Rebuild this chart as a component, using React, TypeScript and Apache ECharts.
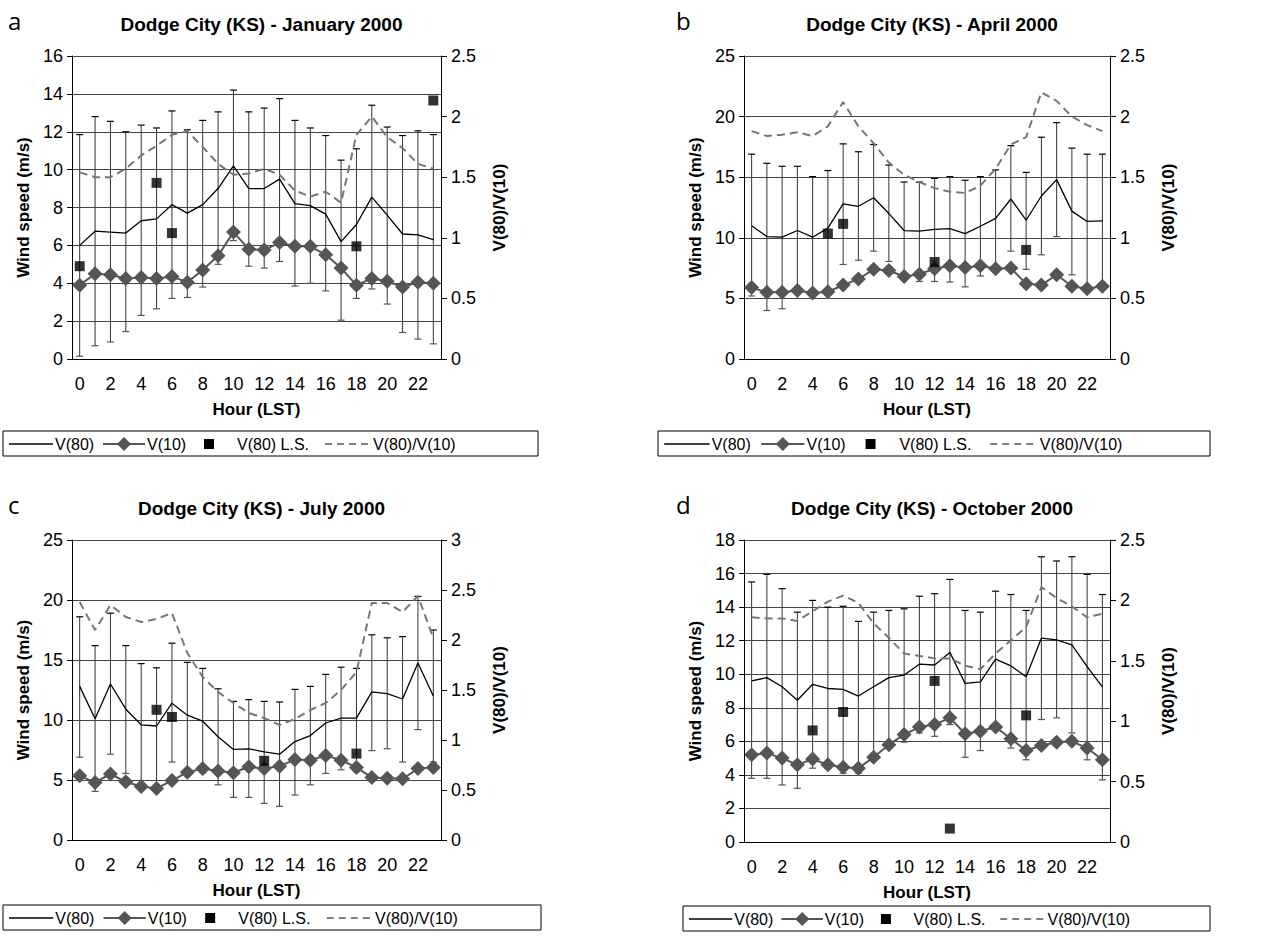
import React, { useEffect, useRef } from "react";
import * as echarts from "echarts";

const hours = Array.from({ length: 24 }, (_, i) => String(i));

const titles = ["Dodge City (KS) - January 2000", "Dodge City (KS) - April 2000", "Dodge City (KS) - July 2000", "Dodge City (KS) - October 2000"];
const letters = ["a", "b", "c", "d"];

const v80Jan = [6.0, 6.75, 6.7, 6.65, 7.3, 7.4, 8.15, 7.7, 8.15, 9.0, 10.2, 9.0, 9.0, 9.5, 8.2, 8.1, 7.65, 6.2, 7.1, 8.55, 7.6, 6.6, 6.55, 6.3];
const v10Jan = [3.9, 4.5, 4.45, 4.25, 4.3, 4.25, 4.35, 4.05, 4.7, 5.45, 6.7, 5.8, 5.75, 6.15, 5.95, 5.95, 5.5, 4.8, 3.9, 4.25, 4.1, 3.8, 4.05, 4.0];
const ratioJan = [1.54, 1.5, 1.5, 1.57, 1.68, 1.76, 1.85, 1.88, 1.75, 1.61, 1.52, 1.53, 1.57, 1.52, 1.39, 1.34, 1.38, 1.29, 1.85, 2.0, 1.83, 1.74, 1.61, 1.57];
const upJan = [11.85, 12.8, 12.55, 12.0, 12.35, 12.2, 13.1, 12.1, 12.6, 13.05, 14.2, 13.05, 13.25, 13.75, 12.6, 12.2, 11.8, 10.5, 11.1, 13.4, 12.25, 11.8, 12.05, 11.85];
const lowJan = [0.15, 0.7, 0.9, 1.45, 2.3, 2.65, 3.2, 3.25, 3.8, 5.0, 6.25, 4.9, 4.8, 5.15, 3.85, 4.0, 3.6, 2.05, 3.2, 3.7, 2.9, 1.4, 1.05, 0.8];
const lsJan: [number, number][] = [[0, 4.9], [5, 9.3], [6, 6.65], [18, 5.95], [23, 13.65]];

const v80Apr = [11.0, 10.1, 10.05, 10.6, 10.05, 10.8, 12.8, 12.6, 13.3, 12.0, 10.6, 10.55, 10.7, 10.75, 10.35, 10.95, 11.6, 13.2, 11.45, 13.45, 14.8, 12.2, 11.35, 11.4];
const v10Apr = [5.9, 5.5, 5.5, 5.65, 5.45, 5.55, 6.1, 6.6, 7.4, 7.3, 6.8, 7.0, 7.45, 7.7, 7.55, 7.7, 7.45, 7.5, 6.2, 6.1, 6.95, 6.0, 5.8, 6.0];
const ratioApr = [1.88, 1.84, 1.85, 1.87, 1.84, 1.92, 2.12, 1.92, 1.78, 1.62, 1.52, 1.46, 1.41, 1.38, 1.37, 1.43, 1.57, 1.77, 1.83, 2.2, 2.13, 2.0, 1.93, 1.88];
const upApr = [16.9, 16.15, 15.9, 15.9, 15.05, 15.55, 17.75, 17.1, 17.7, 16.0, 14.6, 14.6, 14.9, 15.05, 14.75, 15.05, 15.6, 17.6, 15.4, 18.3, 19.5, 17.4, 16.9, 16.9];
const lowApr = [5.2, 4.0, 4.15, 5.5, 5.3, 5.5, 7.8, 8.15, 8.9, 8.05, 7.0, 6.4, 6.4, 6.35, 5.95, 6.85, 7.2, 8.9, 7.4, 8.6, 10.1, 6.95, 5.8, 6.0];
const lsApr: [number, number][] = [[5, 10.35], [6, 11.15], [12, 8.0], [18, 9.0]];

const v80Jul = [12.8, 10.1, 13.0, 10.9, 9.6, 9.5, 11.4, 10.4, 9.9, 8.6, 7.55, 7.6, 7.35, 7.15, 8.2, 8.7, 9.75, 10.15, 10.15, 12.35, 12.2, 11.75, 14.75, 12.0];
const v10Jul = [5.35, 4.8, 5.5, 4.85, 4.45, 4.3, 4.95, 5.65, 5.95, 5.75, 5.6, 6.1, 5.95, 6.15, 6.7, 6.65, 7.05, 6.65, 6.05, 5.2, 5.15, 5.1, 5.95, 6.05];
const ratioJul = [2.38, 2.1, 2.35, 2.23, 2.18, 2.21, 2.27, 1.87, 1.63, 1.48, 1.37, 1.27, 1.22, 1.15, 1.21, 1.3, 1.37, 1.5, 1.68, 2.37, 2.37, 2.28, 2.44, 2.02];
const upJul = [18.6, 16.2, 18.9, 16.2, 14.7, 14.35, 16.4, 14.8, 14.3, 12.6, 11.55, 11.7, 11.55, 11.5, 12.55, 12.8, 13.8, 14.4, 14.3, 17.1, 16.85, 16.95, 20.3, 17.5];
const lowJul = [6.9, 4.05, 7.15, 5.55, 4.5, 4.3, 6.5, 5.4, 5.6, 4.6, 3.55, 3.55, 3.05, 2.8, 3.75, 4.6, 5.55, 5.85, 5.7, 7.45, 7.6, 6.5, 9.2, 6.5];
const lsJul: [number, number][] = [[5, 10.85], [6, 10.25], [12, 6.6], [18, 7.2]];

const v80Oct = [9.6, 9.8, 9.25, 8.45, 9.4, 9.15, 9.1, 8.7, 9.25, 9.8, 9.95, 10.6, 10.55, 11.3, 9.45, 9.55, 10.9, 10.5, 9.85, 12.15, 12.05, 11.75, 10.45, 9.25];
const v10Oct = [5.2, 5.3, 5.0, 4.6, 4.95, 4.6, 4.45, 4.4, 5.05, 5.8, 6.4, 6.85, 7.0, 7.4, 6.45, 6.6, 6.85, 6.15, 5.45, 5.75, 5.95, 6.0, 5.6, 4.9];
const ratioOct = [1.86, 1.85, 1.85, 1.83, 1.91, 1.99, 2.04, 1.98, 1.81, 1.69, 1.56, 1.54, 1.52, 1.52, 1.46, 1.43, 1.56, 1.67, 1.78, 2.11, 2.02, 1.95, 1.86, 1.89];
const upOct = [15.5, 15.95, 15.1, 13.7, 14.4, 14.0, 14.05, 13.15, 13.7, 13.8, 13.9, 14.65, 14.8, 15.65, 13.8, 13.7, 14.95, 14.75, 13.8, 17.0, 16.75, 17.0, 15.95, 14.75];
const lowOct = [3.8, 3.8, 3.4, 3.2, 4.4, 4.4, 4.1, 4.1, 5.1, 5.8, 5.95, 6.5, 6.3, 7.0, 5.05, 5.45, 6.85, 5.6, 4.9, 7.3, 7.4, 6.5, 4.9, 3.7];
const lsOct: [number, number][] = [[4, 6.65], [6, 7.75], [12, 9.6], [13, 0.8], [18, 7.55]];

const panels = [
  { v80: v80Jan, v10: v10Jan, ratio: ratioJan, up: upJan, low: lowJan, ls: lsJan, yMax: 16, yInt: 2, rMax: 2.5, rInt: 0.5 },
  { v80: v80Apr, v10: v10Apr, ratio: ratioApr, up: upApr, low: lowApr, ls: lsApr, yMax: 25, yInt: 5, rMax: 2.5, rInt: 0.5 },
  { v80: v80Jul, v10: v10Jul, ratio: ratioJul, up: upJul, low: lowJul, ls: lsJul, yMax: 25, yInt: 5, rMax: 3, rInt: 0.5 },
  { v80: v80Oct, v10: v10Oct, ratio: ratioOct, up: upOct, low: lowOct, ls: lsOct, yMax: 18, yInt: 2, rMax: 2.5, rInt: 0.5 },
];

const rects = [
  { left: 72, top: 56, width: 369, height: 303, legX: 3, legY: 431, legW: 535, lx: 8 },
  { left: 744, top: 56, width: 366, height: 303, legX: 658, legY: 431, legW: 552, lx: 676 },
  { left: 72, top: 540, width: 369, height: 300, legX: 3, legY: 905, legW: 538, lx: 8 },
  { left: 744, top: 540, width: 366, height: 302, legX: 683, legY: 906, legW: 527, lx: 676 },
];

const FONT = "Liberation Sans, Arial, sans-serif";
const NARROW = "Liberation Sans Narrow, Arial Narrow, Liberation Sans, sans-serif";

function legend(x: number, y: number, w: number): any[] {
  const cy = y + 13;
  const s = w / 535;
  const X = (v: number) => x + v * s;
  const ts = { fontSize: 16, fontFamily: FONT, fill: "#000", verticalAlign: "middle" };
  return [
    { type: "rect", shape: { x, y, width: w, height: 25 }, style: { fill: "#fff", stroke: "#000", lineWidth: 1 } },
    { type: "line", shape: { x1: X(6), y1: cy, x2: X(50), y2: cy }, style: { stroke: "#000", lineWidth: 1.3 } },
    { type: "text", x: X(52), y: cy, style: { text: "V(80)", ...ts } },
    { type: "line", shape: { x1: X(100), y1: cy, x2: X(142), y2: cy }, style: { stroke: "#555", lineWidth: 2 } },
    { type: "polygon", shape: { points: [[X(121), cy - 7], [X(121) + 7, cy], [X(121), cy + 7], [X(121) - 7, cy]] }, style: { fill: "#555" } },
    { type: "text", x: X(144), y: cy, style: { text: "V(10)", ...ts } },
    { type: "rect", shape: { x: X(206) - 5, y: cy - 5, width: 10, height: 10 }, style: { fill: "#000" } },
    { type: "text", x: X(234), y: cy, style: { text: "V(80) L.S.", ...ts } },
    { type: "line", shape: { x1: X(322), y1: cy, x2: X(368), y2: cy }, style: { stroke: "#555", lineWidth: 1.5, lineDash: [7, 5] } },
    { type: "text", x: X(370), y: cy, style: { text: "V(80)/V(10)", ...ts } },
  ];
}

export default function App() {
  const ref = useRef<HTMLDivElement>(null);
  useEffect(() => {
    const chart = echarts.init(ref.current!, undefined, { renderer: "svg" });
    const grid: any[] = [];
    const xAxis: any[] = [];
    const yAxis: any[] = [];
    const series: any[] = [];
    const title: any[] = [];
    const graphic: any[] = [];
    panels.forEach((p, i) => {
      const r = rects[i];
      grid.push({ left: r.left, top: r.top, width: r.width, height: r.height, containLabel: false });
      title.push({
        text: titles[i], left: r.left + r.width / 2, top: r.top - 46, textAlign: "center",
        textStyle: { fontSize: 19, fontWeight: "bold", fontFamily: FONT, color: "#000" },
      });
      graphic.push({ type: "text", left: r.lx, top: r.top - 48, style: { text: letters[i], fontSize: 24, fontFamily: "Open Sans, sans-serif", fill: "#000" } });
      graphic.push(...legend(r.legX, r.legY, r.legW));
      xAxis.push({
        type: "category", gridIndex: i, data: hours, boundaryGap: true,
        name: "Hour (LST)", nameLocation: "middle", nameGap: 42,
        nameTextStyle: { fontSize: 17, fontWeight: "bold", fontFamily: FONT, color: "#000" },
        axisLine: { lineStyle: { color: "#000" } },
        axisTick: { interval: 0, length: 6, lineStyle: { color: "#000" } },
        axisLabel: { interval: 1, fontSize: 18, fontFamily: NARROW, color: "#000", margin: 16 },
      });
      yAxis.push({
        type: "value", gridIndex: i, min: 0, max: p.yMax, interval: p.yInt,
        name: "Wind speed (m/s)", nameLocation: "middle", nameGap: 40, nameRotate: 90,
        nameTextStyle: { fontSize: 17, fontWeight: "bold", fontFamily: FONT, color: "#000" },
        axisLine: { show: true, lineStyle: { color: "#000" } },
        axisTick: { show: true, length: 5, lineStyle: { color: "#000" } },
        axisLabel: { fontSize: 18, fontFamily: NARROW, color: "#000", margin: 9 },
        splitLine: { show: true, lineStyle: { color: "#444", width: 1.2 } },
      });
      yAxis.push({
        type: "value", gridIndex: i, position: "right", min: 0, max: p.rMax, interval: p.rInt,
        name: "V(80)/V(10)", nameLocation: "middle", nameGap: 50, nameRotate: 90,
        nameTextStyle: { fontSize: 17, fontWeight: "bold", fontFamily: FONT, color: "#000" },
        axisLine: { show: true, lineStyle: { color: "#000" } },
        axisTick: { show: true, length: 6, lineStyle: { color: "#000" } },
        axisLabel: { fontSize: 18, fontFamily: NARROW, color: "#000", margin: 10 },
        splitLine: { show: false },
      });
      const errData = hours.map((_, k) => [k, p.low[k], p.up[k]]);
      series.push({
        type: "custom", xAxisIndex: i, yAxisIndex: 2 * i, data: errData, z: 1, silent: true,
        renderItem: (params: any, api: any) => {
          const x = api.value(0);
          const lo = api.coord([x, api.value(1)]);
          const hi = api.coord([x, api.value(2)]);
          return {
            type: "group",
            children: [
              { type: "line", shape: { x1: hi[0], y1: hi[1], x2: lo[0], y2: lo[1] }, style: { stroke: "#333", lineWidth: 1 } },
              { type: "line", shape: { x1: hi[0] - 3.5, y1: hi[1], x2: hi[0] + 3.5, y2: hi[1] }, style: { stroke: "#000", lineWidth: 1.2 } },
              { type: "line", shape: { x1: lo[0] - 3.5, y1: lo[1], x2: lo[0] + 3.5, y2: lo[1] }, style: { stroke: "#555", lineWidth: 1.2 } },
            ],
          };
        },
      });
      series.push({
        type: "line", name: "V(80)", xAxisIndex: i, yAxisIndex: 2 * i, data: p.v80, symbol: "none", z: 3,
        lineStyle: { color: "#000", width: 1.3 },
      });
      series.push({
        type: "line", name: "V(10)", xAxisIndex: i, yAxisIndex: 2 * i, data: p.v10, symbol: "diamond", symbolSize: 15, z: 4,
        showAllSymbol: true, lineStyle: { color: "#555", width: 2 }, itemStyle: { color: "#555" },
      });
      series.push({
        type: "scatter", name: "V(80) L.S.", xAxisIndex: i, yAxisIndex: 2 * i, data: p.ls, symbol: "rect", symbolSize: 10, z: 5,
        itemStyle: { color: "#000" },
      });
      series.push({
        type: "line", name: "V(80)/V(10)", xAxisIndex: i, yAxisIndex: 2 * i + 1, data: p.ratio, symbol: "none", z: 3,
        lineStyle: { color: "#777", width: 2, type: [8, 5] },
      });
    });
    chart.setOption({ animation: false, backgroundColor: "#fff", title, grid, xAxis, yAxis, series, graphic });
    return () => chart.dispose();
  }, []);
  return <div ref={ref} style={{ position: "fixed", left: 0, top: 0, width: 1285, height: 937 }} />;
}
